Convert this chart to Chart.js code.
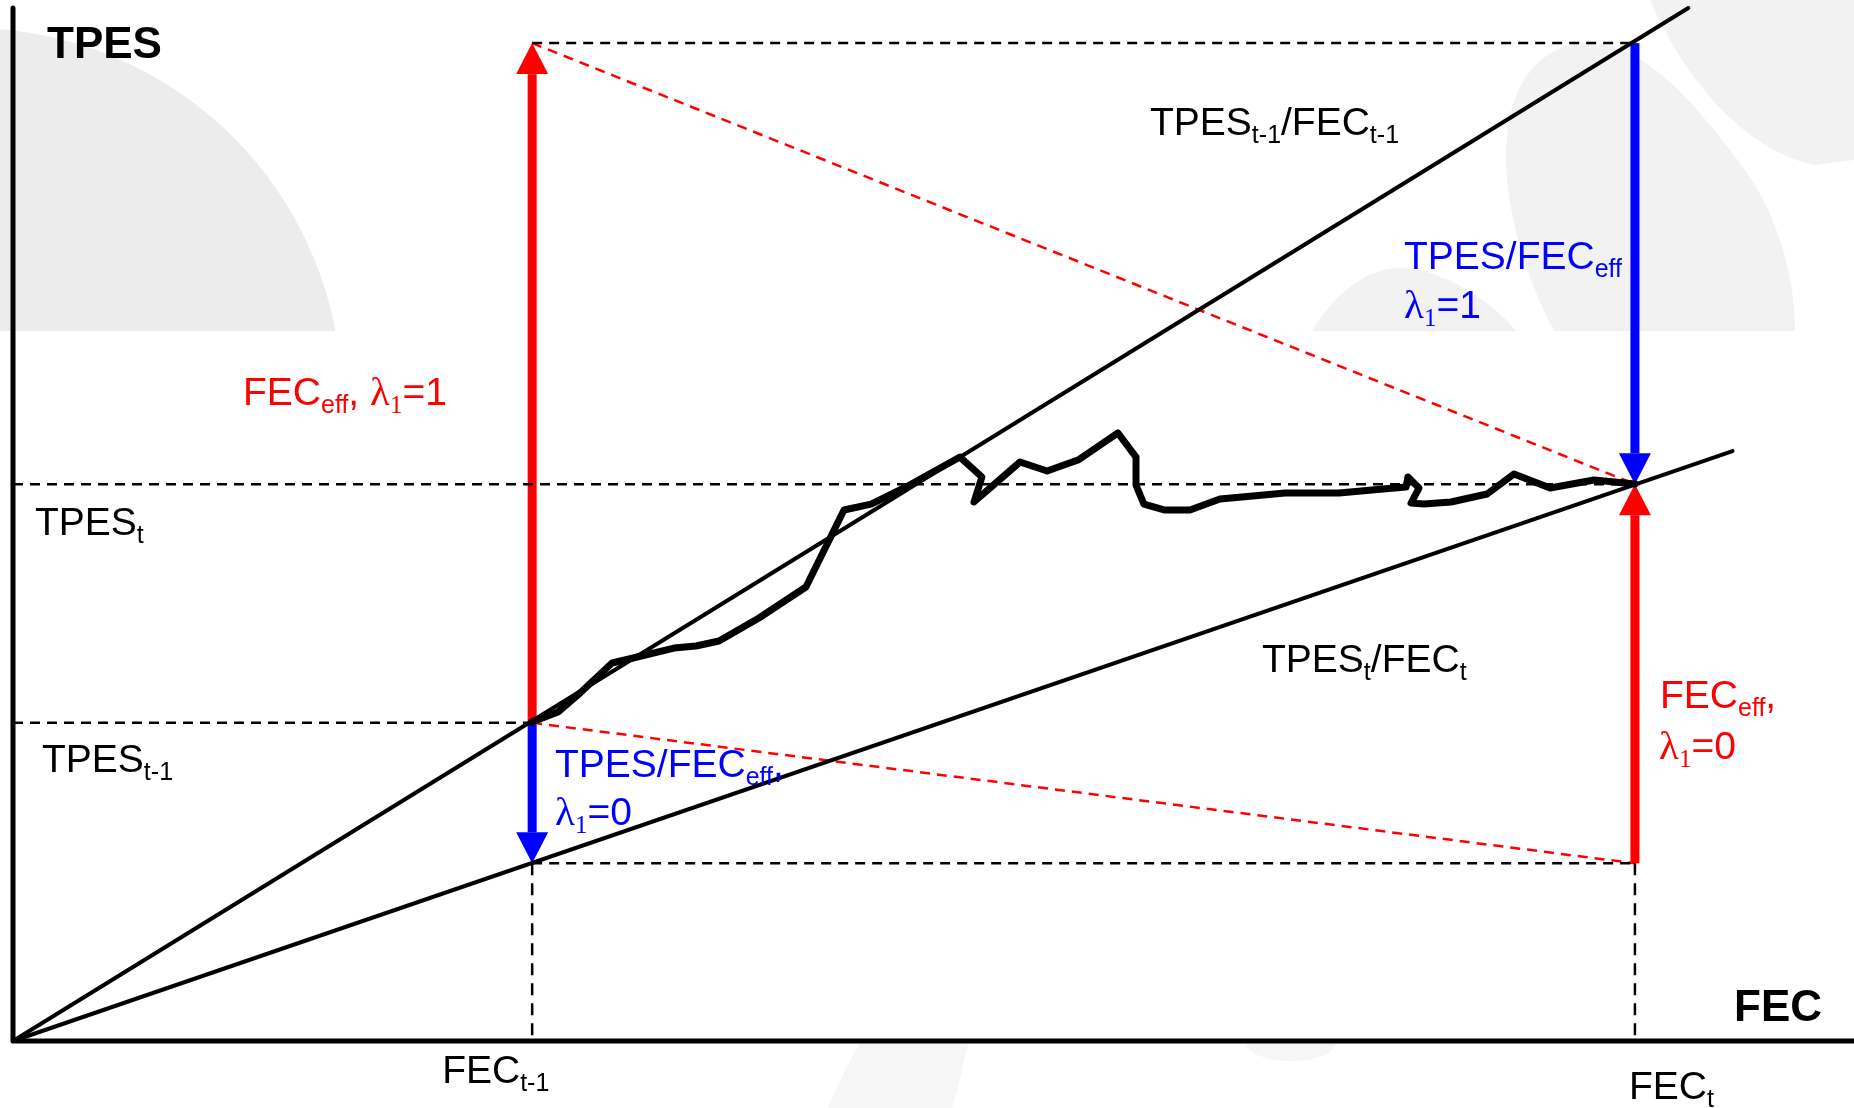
<!DOCTYPE html>
<html>
<head>
<meta charset="utf-8">
<script src="https://cdn.jsdelivr.net/npm/chart.js@4.4.0/dist/chart.umd.min.js"></script>
<style>
  html, body { margin: 0; padding: 0; background: #fff; overflow: hidden; }
  canvas { display: block; }
</style>
</head>
<body>
<canvas id="diagrama" width="1854" height="1108" style="width:1854px;height:1108px"></canvas>
<script>
// Valores do diagrama (unidades arbitrárias, eixo 0..100)
const fecAnterior = 28.2;   // FEC t-1
const fecAtual = 88.1;      // FEC t
const tpesAnterior = 30.8;  // TPES t-1
const tpesAtual = 53.9;     // TPES t
const tpesEffAlto = 96.6;   // TPES t-1/FEC t-1 aplicado a FEC t
const tpesEffBaixo = 17.2;  // TPES t/FEC t aplicado a FEC t-1

// Fim das retas de intensidade
const retaAnteriorFim = [91.0, 100.0];
const retaAtualFim = [93.4, 57.1];

// Trajetória observada entre t-1 e t
const trajetoFEC = [28.19, 29.60, 30.80, 32.54, 33.46, 35.90, 37.10, 38.35, 40.52, 43.07, 45.14, 46.61, 48.51, 51.44,
  52.63, 52.20, 54.70, 56.17, 57.85, 60.02, 61.00, 61.00, 61.43, 62.57, 63.93, 65.56, 67.35, 69.09, 72.03, 74.42,
  75.67, 75.77, 76.37, 75.94, 76.64, 78.11, 80.07, 81.53, 83.49, 85.88, 88.10];
const trajetoTPES = [30.88, 31.85, 33.69, 36.59, 36.98, 38.04, 38.24, 38.72, 40.95, 43.95, 51.40, 51.98, 53.63, 56.53,
  54.60, 52.18, 56.05, 55.18, 56.24, 58.86, 56.53, 53.82, 51.98, 51.40, 51.40, 52.47, 52.76, 53.05, 53.05, 53.44,
  53.63, 54.60, 53.53, 52.08, 51.98, 52.18, 52.95, 54.89, 53.53, 54.31, 53.92];

// Setas: x, de, até, cor
const setasX = [fecAnterior, fecAnterior, fecAtual, fecAtual];
const setasDe = [tpesAnterior, tpesAnterior, tpesEffAlto, tpesEffBaixo];
const setasAte = [tpesEffAlto, tpesEffBaixo, tpesAtual, tpesAtual];
const setasCor = ['#ff0000', '#0000ff', '#0000ff', '#ff0000'];

const pts = (xs, ys) => xs.map((x, i) => ({ x: x, y: ys[i] }));

function linha(xs, ys, cor, largura, tracejado) {
  return {
    data: pts(xs, ys),
    showLine: true,
    borderColor: cor,
    borderWidth: largura,
    borderDash: tracejado || [],
    pointRadius: 0,
    borderJoinStyle: 'round',
    borderCapStyle: tracejado ? 'butt' : 'round',
    clip: false
  };
}

const datasets = [
  // trajetória
  linha(trajetoFEC, trajetoTPES, '#000', 7),
  // retas de intensidade
  linha([0, retaAnteriorFim[0]], [0, retaAnteriorFim[1]], '#000', 4),
  linha([0, retaAtualFim[0]], [0, retaAtualFim[1]], '#000', 4),
  // eixos
  linha([0, 0, 100], [100, 0, 0], '#000', 5),
  // tracejados pretos
  linha([fecAnterior, fecAtual], [tpesEffAlto, tpesEffAlto], '#000', 2.5, [10, 7]),
  linha([0, fecAtual], [tpesAtual, tpesAtual], '#000', 2.5, [10, 7]),
  linha([0, fecAnterior], [tpesAnterior, tpesAnterior], '#000', 2.5, [10, 7]),
  linha([fecAnterior, fecAtual], [tpesEffBaixo, tpesEffBaixo], '#000', 2.5, [10, 7]),
  linha([fecAnterior, fecAnterior], [tpesEffBaixo, 0], '#000', 2.5, [12, 8]),
  linha([fecAtual, fecAtual], [tpesEffBaixo, 0], '#000', 2.5, [12, 8]),
  // tracejados vermelhos
  linha([fecAnterior, fecAtual], [tpesEffAlto, tpesAtual], '#ff0000', 2.5, [10, 7]),
  linha([fecAnterior, fecAtual], [tpesAnterior, tpesEffBaixo], '#ff0000', 2.5, [10, 7])
];

// Fundo com a marca d'água do modelo de slide
const fundo = {
  id: 'fundo',
  beforeDraw(chart) {
    const ctx = chart.ctx;
    ctx.save();
    ctx.fillStyle = '#fff';
    ctx.fillRect(0, 0, chart.width, chart.height);
    ctx.save();
    ctx.beginPath();
    ctx.rect(0, 0, chart.width, 331);
    ctx.clip();
    ctx.fillStyle = '#ececec';
    ctx.beginPath();
    ctx.arc(-30, 400, 372, 0, Math.PI * 2);
    ctx.fill();
    ctx.fillStyle = '#f2f2f2';
    ctx.beginPath();
    ctx.moveTo(1554, 331);
    ctx.bezierCurveTo(1495, 220, 1480, 70, 1570, 45);
    ctx.bezierCurveTo(1640, 30, 1700, 110, 1745, 170);
    ctx.bezierCurveTo(1780, 220, 1795, 280, 1795, 331);
    ctx.closePath();
    ctx.fill();
    ctx.beginPath();
    ctx.moveTo(1650, 0);
    ctx.bezierCurveTo(1680, 70, 1740, 150, 1815, 165);
    ctx.lineTo(1854, 160);
    ctx.lineTo(1854, 0);
    ctx.closePath();
    ctx.fill();
    ctx.beginPath();
    ctx.moveTo(1312, 331);
    ctx.bezierCurveTo(1340, 285, 1375, 266, 1405, 268);
    ctx.bezierCurveTo(1450, 272, 1495, 305, 1516, 331);
    ctx.closePath();
    ctx.fill();
    ctx.restore();
    ctx.fillStyle = '#f6f6f6';
    ctx.beginPath();
    ctx.moveTo(828, 1108);
    ctx.bezierCurveTo(840, 1080, 850, 1060, 860, 1043);
    ctx.lineTo(968, 1043);
    ctx.bezierCurveTo(962, 1070, 958, 1090, 952, 1108);
    ctx.closePath();
    ctx.fill();
    ctx.beginPath();
    ctx.ellipse(1291, 1043, 45, 18, 0, 0, Math.PI);
    ctx.fill();
    ctx.restore();
  },
  beforeDatasetsDraw(chart) {
    const ctx = chart.ctx;
    const sx = chart.scales.x, sy = chart.scales.y;
    ctx.save();
    setasX.forEach((v, i) => {
      const x = sx.getPixelForValue(v);
      const y0 = sy.getPixelForValue(setasDe[i]);
      const y1 = sy.getPixelForValue(setasAte[i]);
      const dir = y1 < y0 ? -1 : 1;
      const cab = 31, meia = 16;
      ctx.fillStyle = setasCor[i];
      ctx.fillRect(x - 4.5, Math.min(y0, y1 - dir * cab), 9, Math.abs(y1 - dir * cab - y0));
      ctx.beginPath();
      ctx.moveTo(x, y1);
      ctx.lineTo(x - meia, y1 - dir * cab);
      ctx.lineTo(x + meia, y1 - dir * cab);
      ctx.closePath();
      ctx.fill();
    });
    ctx.restore();
  }
};

// Textos com índices
const SANS = '"Liberation Sans", Arial, sans-serif';
const SERIF = '"Liberation Serif", "Times New Roman", serif';

function textoRico(ctx, x, y, partes, cor, tam, negrito) {
  let px = x;
  ctx.fillStyle = cor;
  ctx.textBaseline = 'alphabetic';
  ctx.textAlign = 'left';
  partes.forEach(([t, tipo]) => {
    const sub = tipo === 's' || tipo === 'gs';
    const serif = tipo === 'g' || tipo === 'gs';
    const size = sub ? Math.round(tam * 0.65) : (serif ? tam + 2 : tam);
    ctx.font = (negrito ? 'bold ' : '') + size + 'px ' + (serif ? SERIF : SANS);
    ctx.fillText(t, px, sub ? y + 8 : y);
    px += ctx.measureText(t).width;
  });
}

const rotulos = {
  id: 'rotulos',
  afterDraw(chart) {
    const ctx = chart.ctx;
    const sx = chart.scales.x, sy = chart.scales.y;
    const T = 39;
    ctx.save();
    textoRico(ctx, 47, 58, [['TPES', '']], '#000', 44, true);
    textoRico(ctx, 1734, 1021, [['FEC', '']], '#000', 44, true);
    textoRico(ctx, sx.getPixelForValue(fecAnterior) - 90, sy.getPixelForValue(0) + 42, [['FEC', ''], ['t-1', 's']], '#000', T);
    textoRico(ctx, sx.getPixelForValue(fecAtual) - 6, sy.getPixelForValue(0) + 58, [['FEC', ''], ['t', 's']], '#000', T);
    textoRico(ctx, 35, sy.getPixelForValue(tpesAtual) + 51, [['TPES', ''], ['t', 's']], '#000', T);
    textoRico(ctx, 42, sy.getPixelForValue(tpesAnterior) + 49, [['TPES', ''], ['t-1', 's']], '#000', T);
    textoRico(ctx, 1150, 135, [['TPES', ''], ['t-1', 's'], ['/FEC', ''], ['t-1', 's']], '#000', T);
    textoRico(ctx, 1262, 672, [['TPES', ''], ['t', 's'], ['/FEC', ''], ['t', 's']], '#000', T);
    textoRico(ctx, 243, 405, [['FEC', ''], ['eff', 's'], [', ', ''], ['λ', 'g'], ['1', 'gs'], ['=1', '']], '#ff0000', T);
    textoRico(ctx, 1404, 269, [['TPES/FEC', ''], ['eff', 's']], '#0000ff', T);
    textoRico(ctx, 1404, 318, [['λ', 'g'], ['1', 'gs'], ['=1', '']], '#0000ff', T);
    textoRico(ctx, 1660, 708, [['FEC', ''], ['eff', 's'], [',', '']], '#ff0000', T);
    textoRico(ctx, 1659, 759, [['λ', 'g'], ['1', 'gs'], ['=0', '']], '#ff0000', T);
    textoRico(ctx, 555, 777, [['TPES/FEC', ''], ['eff', 's'], [',', '']], '#0000ff', T);
    textoRico(ctx, 555, 825, [['λ', 'g'], ['1', 'gs'], ['=0', '']], '#0000ff', T);
    ctx.restore();
  }
};

const ctxDiagrama = document.getElementById('diagrama').getContext('2d');
const diagrama = new Chart(ctxDiagrama, {
  type: 'scatter',
  data: { datasets: datasets },
  options: {
    responsive: false,
    animation: false,
    devicePixelRatio: 1,
    layout: { padding: { left: 13, top: 8, right: 0, bottom: 67 } },
    plugins: {
      legend: { display: false },
      tooltip: { enabled: false }
    },
    scales: {
      x: { type: 'linear', min: 0, max: 100, display: false },
      y: { type: 'linear', min: 0, max: 100, display: false }
    }
  },
  plugins: [fundo, rotulos]
});
</script>
</body>
</html>
